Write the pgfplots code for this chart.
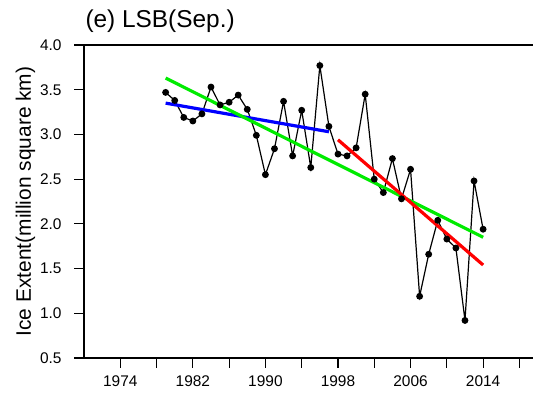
\documentclass[border=0pt]{standalone}
\usepackage{pgfplots}
\pgfplotsset{compat=1.18}
\usepackage{pgfplotstable}
\usepackage{fontspec}
\setmainfont{Liberation Sans}

% September sea-ice extent, LSB region (million km^2)
\pgfplotstableread{
year ext
1979 3.47
1980 3.38
1981 3.19
1982 3.15
1983 3.23
1984 3.53
1985 3.33
1986 3.36
1987 3.44
1988 3.28
1989 2.99
1990 2.55
1991 2.84
1992 3.37
1993 2.76
1994 3.27
1995 2.63
1996 3.77
1997 3.09
1998 2.78
1999 2.76
2000 2.85
2001 3.45
2002 2.50
2003 2.35
2004 2.73
2005 2.28
2006 2.61
2007 1.19
2008 1.66
2009 2.04
2010 1.83
2011 1.73
2012 0.92
2013 2.48
2014 1.94
}\extent

% linear trends: whole record, 1979-1997, 1998-2014
\pgfplotstableread{
year ext
1979 3.63
2014 1.85
}\trendall
\pgfplotstableread{
year ext
1979 3.35
1997 3.03
}\trendearly
\pgfplotstableread{
year ext
1998 2.94
2014 1.54
}\trendlate

\definecolor{trendgreen}{RGB}{0,235,0}

\begin{document}
\begin{tikzpicture}
\begin{axis}[
  scale only axis,
  width=449bp, height=313bp,
  xmin=1970, xmax=2019.5,
  ymin=0.5, ymax=4.0,
  axis x line*=bottom,
  axis y line*=left,
  axis line style={line width=1.3bp, -},
  every tick/.style={black, line width=1.1bp},
  tick align=outside,
  major tick length=10bp,
  minor tick length=5bp,
  xtick={1974,1978,...,2018},
  xticklabels={1974,,1982,,1990,,1998,,2006,,2014,},
  minor x tick num=3,
  ytick={0.5,1.0,...,4.0},
  /pgf/number format/assume math mode=true,
  ticklabel style={font=\fontsize{15.5}{18}\selectfont},
  xticklabel style={yshift=-4bp},
  yticklabel style={/pgf/number format/fixed, /pgf/number format/fixed zerofill, /pgf/number format/precision=1, xshift=-9bp},
  ylabel={Ice Extent(million square km)},
  ylabel style={font=\fontsize{21}{24}\selectfont, yshift=-2bp},
  title={(e) LSB(Sep.)},
  title style={font=\fontsize{24.5}{28}\selectfont, at={(0,1)}, anchor=base west, yshift=12bp, xshift=-2bp},
  clip=false,
]
\draw[line width=1.3bp] (rel axis cs:0,1) -- (rel axis cs:1,1);
\coordinate (sw) at (rel axis cs:0,0);
\coordinate (ne) at (rel axis cs:1,1);
\addplot[black, line width=1.2bp, mark=*, mark size=2.8bp, mark options={fill=black}] table[x=year, y=ext] {\extent};
\addplot[blue, line width=3.2bp, no marks] table[x=year, y=ext] {\trendearly};
\addplot[trendgreen, line width=3.2bp, no marks] table[x=year, y=ext] {\trendall};
\addplot[red, line width=3.2bp, no marks] table[x=year, y=ext] {\trendlate};
\end{axis}
\pgfresetboundingbox
\path ([shift={(-84bp,-40bp)}]sw) rectangle ([yshift=45bp]ne);
\end{tikzpicture}
\end{document}
